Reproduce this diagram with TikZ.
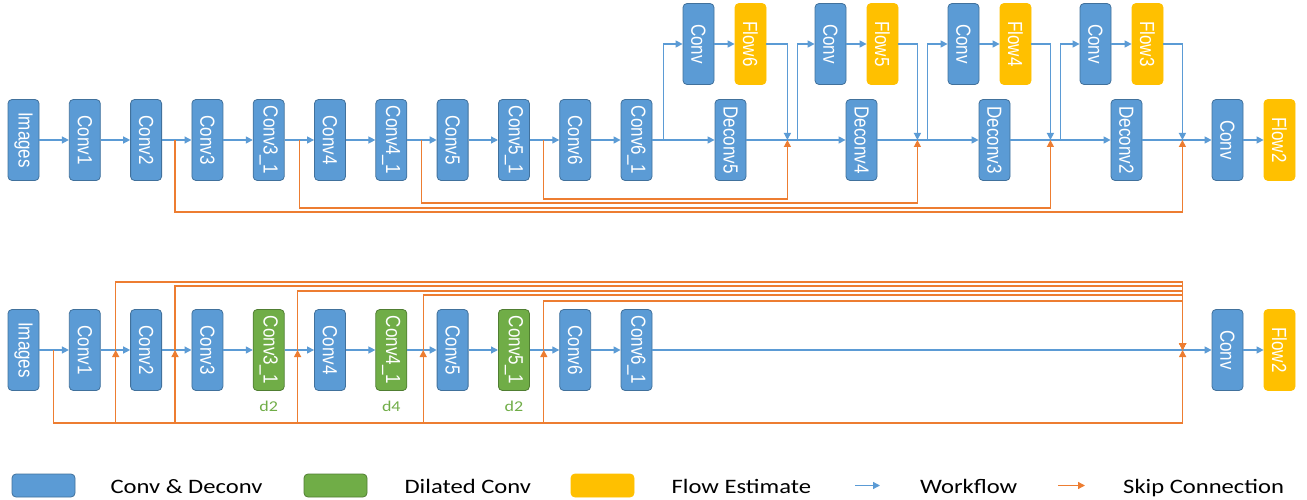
\documentclass[tikz,border=0pt]{standalone}
\usepackage{fontspec}
\setmainfont{Liberation Sans}
\newfontfamily\legendfont{Carlito}
\usetikzlibrary{positioning,arrows.meta,calc}
\definecolor{convblue}{HTML}{5B9BD5}
\definecolor{convedge}{HTML}{41719C}
\definecolor{dilgreen}{HTML}{70AD47}
\definecolor{diledge}{HTML}{507E32}
\definecolor{flowyellow}{HTML}{FFC000}
\definecolor{skiporange}{HTML}{ED7D31}
\newcommand{\vlab}[1]{\rotatebox{-90}{\scalebox{1}[1.2]{#1}}}
\newcommand{\hlab}[1]{\scalebox{1.2}[1]{#1}}

\begin{document}
\begin{tikzpicture}[
	cnode/.style={rectangle,rounded corners=4pt,draw=convedge,fill=convblue,line width=0.8pt,minimum width=31pt,minimum height=81pt,inner sep=0pt,text=white,font=\fontsize{17}{17}\selectfont},
	dnode/.style={cnode,draw=diledge,fill=dilgreen},
	fnode/.style={cnode,draw=flowyellow,fill=flowyellow},
	lnode/.style={cnode,minimum width=63pt,minimum height=23pt},
	ltext/.style={inner sep=0pt,text height=15pt,text depth=0pt,font=\legendfont\fontsize{20.5}{20.5}\selectfont},
	rate/.style={inner sep=0pt,text=dilgreen,font=\legendfont\fontsize{15}{15}\selectfont},
	work/.style={draw=convblue,line width=1.3pt,-{Triangle[length=7pt,width=7pt]}},
	skip/.style={draw=skiporange,line width=1.3pt,-{Triangle[length=7pt,width=7pt]}},
	node distance = 29.5pt]
	\useasboundingbox (0,0) rectangle (1307pt,499pt);

	\node[cnode] (images) at (23.5pt,359pt) {\vlab{Images}};
	\node[cnode] (conv1)[right = of images]{\vlab{Conv1}};
	\node[cnode] (conv2)[right = of conv1]{\vlab{Conv2}};
	\node[cnode] (conv3)[right = of conv2]{\vlab{Conv3}};
	\node[cnode] (conv31)[right = of conv3]{\vlab{Conv3\_1}};
	\node[cnode] (conv4)[right = of conv31]{\vlab{Conv4}};
	\node[cnode] (conv41)[right = of conv4]{\vlab{Conv4\_1}};
	\node[cnode] (conv5)[right = of conv41]{\vlab{Conv5}};
	\node[cnode] (conv51)[right = of conv5]{\vlab{Conv5\_1}};
	\node[cnode] (conv6)[right = of conv51]{\vlab{Conv6}};
	\node[cnode] (conv61)[right = of conv6]{\vlab{Conv6\_1}};
	\node[cnode] (deconv5)[right = 62.2pt of conv61]{\vlab{Deconv5}};
	\node[cnode] (deconv4)[right = 99.2pt of deconv5]{\vlab{Deconv4}};
	\node[cnode] (deconv3)[right = 101.2pt of deconv4]{\vlab{Deconv3}};
	\node[cnode] (deconv2)[right = 100.2pt of deconv3]{\vlab{Deconv2}};
	\node[cnode] (conv)[right = 69.2pt of deconv2]{\vlab{Conv}};
	\node[fnode] (flow2)[right = 20.2pt of conv]{\vlab{Flow2}};

	\node[cnode] (pconv6)[above = 14.2pt of deconv5, xshift=-32pt]{\vlab{Conv}};
	\node[fnode] (flow6)[right = 20.2pt of pconv6]{\vlab{Flow6}};
	\node[cnode] (pconv5)[above = 14.2pt of deconv4, xshift=-31pt]{\vlab{Conv}};
	\node[fnode] (flow5)[right = 20.2pt of pconv5]{\vlab{Flow5}};
	\node[cnode] (pconv4)[above = 14.2pt of deconv3, xshift=-31pt]{\vlab{Conv}};
	\node[fnode] (flow4)[right = 20.2pt of pconv4]{\vlab{Flow4}};
	\node[cnode] (pconv3)[above = 14.2pt of deconv2, xshift=-31pt]{\vlab{Conv}};
	\node[fnode] (flow3)[right = 20.2pt of pconv3]{\vlab{Flow3}};

	\coordinate (k2) at ($(conv2.east)+(13pt,0)$);
	\coordinate (k3) at ($(conv31.east)+(15pt,0)$);
	\coordinate (k4) at ($(conv41.east)+(14pt,0)$);
	\coordinate (k5) at ($(conv51.east)+(14pt,0)$);
	\coordinate (s6) at ($(conv61.east)+(11pt,0)$);
	\coordinate (m6) at ($(flow6.east |- deconv5)+(21pt,0)$);
	\coordinate (m5) at ($(flow5.east |- deconv5)+(19pt,0)$);
	\coordinate (m4) at ($(flow4.east |- deconv5)+(19pt,0)$);
	\coordinate (m3) at ($(flow3.east |- deconv5)+(19pt,0)$);
	\coordinate (s5) at ($(m6)+(10pt,0)$);
	\coordinate (s4) at ($(m5)+(10pt,0)$);
	\coordinate (s3) at ($(m4)+(10pt,0)$);

	\draw[work] (images) -- (conv1);
	\draw[work] (conv1) -- (conv2);
	\draw[work] (conv2) -- (conv3);
	\draw[work] (conv3) -- (conv31);
	\draw[work] (conv31) -- (conv4);
	\draw[work] (conv4) -- (conv41);
	\draw[work] (conv41) -- (conv5);
	\draw[work] (conv5) -- (conv51);
	\draw[work] (conv51) -- (conv6);
	\draw[work] (conv6) -- (conv61);
	\draw[work] (conv61) -- (deconv5);
	\draw[work] (deconv5) -- (deconv4);
	\draw[work] (deconv4) -- (deconv3);
	\draw[work] (deconv3) -- (deconv2);
	\draw[work] (deconv2) -- (conv);
	\draw[work] (conv) -- (flow2);
	\draw[work] (s6) |- (pconv6);
	\draw[work] (pconv6) -- (flow6);
	\draw[work] (flow6) -| (m6);
	\draw[work] (s5) |- (pconv5);
	\draw[work] (pconv5) -- (flow5);
	\draw[work] (flow5) -| (m5);
	\draw[work] (s4) |- (pconv4);
	\draw[work] (pconv4) -- (flow4);
	\draw[work] (flow4) -| (m4);
	\draw[work] (s3) |- (pconv3);
	\draw[work] (pconv3) -- (flow3);
	\draw[work] (flow3) -| (m3);
	\draw[skip] (k5) -- ++(0,-59pt) -| (m6);
	\draw[skip] (k4) -- ++(0,-63pt) -| (m5);
	\draw[skip] (k3) -- ++(0,-68pt) -| (m4);
	\draw[skip] (k2) -- ++(0,-72pt) -| (m3);

	\node[cnode] (bimages)[below = 128.2pt of images]{\vlab{Images}};
	\node[cnode] (bconv1)[right = of bimages]{\vlab{Conv1}};
	\node[cnode] (bconv2)[right = of bconv1]{\vlab{Conv2}};
	\node[cnode] (bconv3)[right = of bconv2]{\vlab{Conv3}};
	\node[dnode] (bconv31)[right = of bconv3]{\vlab{Conv3\_1}};
	\node[cnode] (bconv4)[right = of bconv31]{\vlab{Conv4}};
	\node[dnode] (bconv41)[right = of bconv4]{\vlab{Conv4\_1}};
	\node[cnode] (bconv5)[right = of bconv41]{\vlab{Conv5}};
	\node[dnode] (bconv51)[right = of bconv5]{\vlab{Conv5\_1}};
	\node[cnode] (bconv6)[right = of bconv51]{\vlab{Conv6}};
	\node[cnode] (bconv61)[right = of bconv6]{\vlab{Conv6\_1}};
	\node[cnode] (bconv)[below = 128.2pt of conv]{\vlab{Conv}};
	\node[fnode] (bflow2)[below = 128.2pt of flow2]{\vlab{Flow2}};
	\node[rate] (d31)[below = 10pt of bconv31]{\hlab{d2}};
	\node[rate] (d41)[below = 10pt of bconv41]{\hlab{d4}};
	\node[rate] (d51)[below = 10pt of bconv51]{\hlab{d2}};

	\coordinate (p0) at ($(bimages.east)+(14pt,0)$);
	\coordinate (p1) at ($(bconv1.east)+(15pt,0)$);
	\coordinate (p2) at ($(bconv2.east)+(13pt,0)$);
	\coordinate (p3) at ($(bconv31.east)+(13pt,0)$);
	\coordinate (p4) at ($(bconv41.east)+(16pt,0)$);
	\coordinate (p5) at ($(bconv51.east)+(14pt,0)$);
	\coordinate (bl) at ($(p0)+(0,-73pt)$);
	\coordinate (mb) at ($(bconv.west)+(-29pt,0)$);

	\draw[work] (bimages) -- (bconv1);
	\draw[work] (bconv1) -- (bconv2);
	\draw[work] (bconv2) -- (bconv3);
	\draw[work] (bconv3) -- (bconv31);
	\draw[work] (bconv31) -- (bconv4);
	\draw[work] (bconv4) -- (bconv41);
	\draw[work] (bconv41) -- (bconv5);
	\draw[work] (bconv5) -- (bconv51);
	\draw[work] (bconv51) -- (bconv6);
	\draw[work] (bconv6) -- (bconv61);
	\draw[work] (bconv61) -- (bconv);
	\draw[work] (bconv) -- (bflow2);
	\draw[skip] (p0) -- (bl) -| (mb);
	\draw[skip] (p1 |- bl) -- (p1);
	\draw[skip] (p2 |- bl) -- (p2);
	\draw[skip] (p3 |- bl) -- (p3);
	\draw[skip] (p4 |- bl) -- (p4);
	\draw[skip] (p5 |- bl) -- (p5);
	\draw[skip] (p1) -- ++(0,68pt) -| (mb);
	\draw[skip] (p2) -- ++(0,64pt) -| (mb);
	\draw[skip] (p3) -- ++(0,59pt) -| (mb);
	\draw[skip] (p4) -- ++(0,55pt) -| (mb);
	\draw[skip] (p5) -- ++(0,49pt) -| (mb);

	\node[lnode] (lconv) at (43.5pt,13.5pt){};
	\node[ltext] (tconv)[right = 35pt of lconv]{\hlab{Conv \& Deconv}};
	\node[lnode,draw=diledge,fill=dilgreen] (ldil) at (335.5pt,13.5pt){};
	\node[ltext] (tdil)[right = 37pt of ldil]{\hlab{Dilated Conv}};
	\node[lnode,draw=flowyellow,fill=flowyellow] (lflow) at (602.5pt,13.5pt){};
	\node[ltext] (tflow)[right = 37pt of lflow]{\hlab{Flow Estimate}};
	\coordinate (wa) at (855pt,13.5pt);
	\coordinate (wb) at (880pt,13.5pt);
	\draw[work] (wa) -- (wb);
	\node[ltext] (twork)[right = 40pt of wb]{\hlab{Workflow}};
	\coordinate (sa) at (1058pt,13.5pt);
	\coordinate (sb) at (1085pt,13.5pt);
	\draw[skip] (sa) -- (sb);
	\node[ltext] (tskip)[right = 38pt of sb]{\hlab{Skip Connection}};
\end{tikzpicture}
\end{document}
